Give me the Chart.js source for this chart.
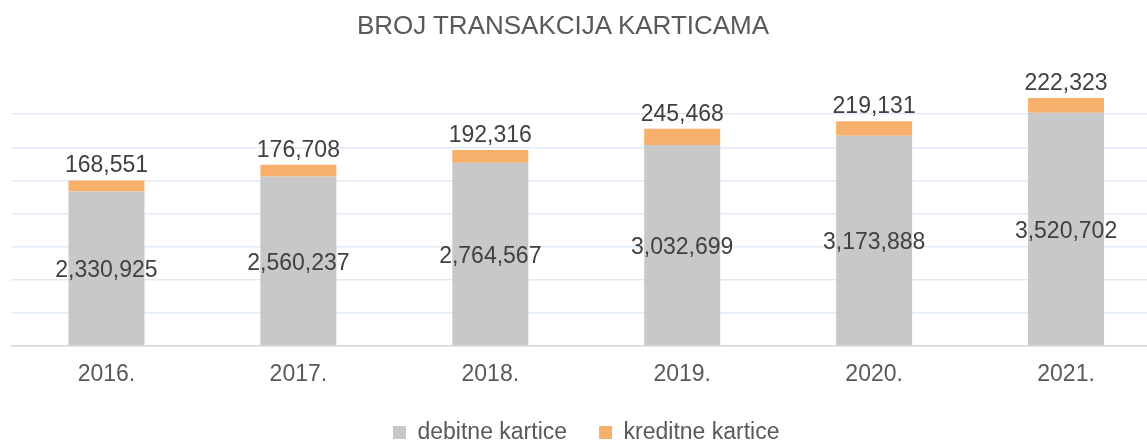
<!DOCTYPE html>
<html>
<head>
<meta charset="utf-8">
<title>Broj transakcija karticama</title>
<script src="https://cdn.jsdelivr.net/npm/chart.js@4"></script>
<style>
  body { margin: 0; overflow: hidden; background: #fff; font-family: "Liberation Sans", Arial, sans-serif; }
  .wrap { position: relative; width: 1162px; height: 454px; }
  .chart-title {
    position: absolute; left: 0; top: 10px; width: 1126px;
    text-align: center; font-size: 26px; line-height: 30px; color: #595959;
  }
</style>
</head>
<body>
<div class="wrap">
  <div class="chart-title">BROJ TRANSAKCIJA KARTICAMA</div>
  <canvas id="cardChart"></canvas>
</div>
<script>
const years = ['2016.', '2017.', '2018.', '2019.', '2020.', '2021.'];
const debitCards = [2330925, 2560237, 2764567, 3032699, 3173888, 3520702];
const creditCards = [168551, 176708, 192316, 245468, 219131, 222323];

const fontFamily = '"Liberation Sans", Arial, sans-serif';

// draws the value labels: debit inside the bar, credit above the stack
const valueLabels = {
  id: 'valueLabels',
  afterDatasetsDraw(chart) {
    const ctx = chart.ctx;
    const debitBars = chart.getDatasetMeta(0).data;
    const creditBars = chart.getDatasetMeta(1).data;
    ctx.save();
    ctx.font = '23px ' + fontFamily;
    ctx.fillStyle = '#404040';
    ctx.textAlign = 'center';
    ctx.textBaseline = 'alphabetic';
    debitBars.forEach((bar, i) => {
      ctx.fillText(debitCards[i].toLocaleString('en-US'), bar.x, (bar.y + bar.base) / 2 + 9);
    });
    creditBars.forEach((bar, i) => {
      ctx.fillText(creditCards[i].toLocaleString('en-US'), bar.x, bar.y - 8);
    });
    ctx.restore();
  }
};

new Chart(document.getElementById('cardChart'), {
  type: 'bar',
  data: {
    labels: years,
    datasets: [
      { label: 'debitne kartice', data: debitCards, backgroundColor: '#c8c8c8' },
      { label: 'kreditne kartice', data: creditCards, backgroundColor: '#f7b06b' }
    ]
  },
  options: {
    responsive: true,
    maintainAspectRatio: false,
    animation: false,
    barPercentage: 1,
    categoryPercentage: 0.396,
    layout: { padding: { top: 81, left: 10.5, right: 0, bottom: 0 } },
    plugins: {
      legend: {
        position: 'bottom',
        labels: {
          boxWidth: 13,
          boxHeight: 13,
          padding: 32,
          color: '#595959',
          font: { family: fontFamily, size: 23 }
        }
      },
      tooltip: { enabled: false }
    },
    scales: {
      x: {
        stacked: true,
        grid: { display: false, drawTicks: false },
        border: { color: '#d9d9d9', width: 1.5 },
        ticks: { color: '#595959', padding: 15, font: { family: fontFamily, size: 23 } },
        afterFit: (scale) => { scale.height = 43; }
      },
      y: {
        stacked: true,
        min: 0,
        max: 4000000,
        border: { display: false },
        grid: {
          drawTicks: false,
          lineWidth: 1.5,
          color: (c) => (c.tick && c.tick.value >= 4000000) ? 'rgba(0,0,0,0)' : '#e2ecf7'
        },
        ticks: { display: false, stepSize: 500000 }
      }
    }
  },
  plugins: [valueLabels]
});
</script>
</body>
</html>
